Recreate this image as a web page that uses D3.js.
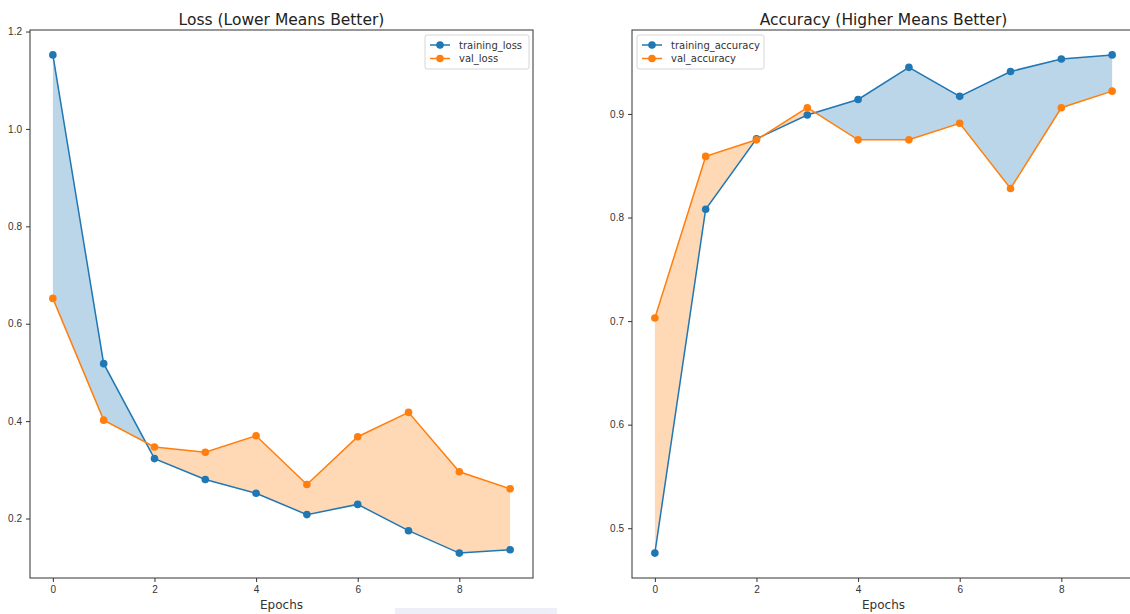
<!DOCTYPE html>
<html>
<head>
<meta charset="utf-8">
<script src="https://cdn.jsdelivr.net/npm/d3@7"></script>
<style>
  body { margin: 0; background: #fff; }
  svg { display: block; font-family: "DejaVu Sans", sans-serif; }
  .tick text { font-size: 10px; fill: #333; }
  .tick line { stroke: #333; }
  .domain { display: none; }
</style>
</head>
<body>
<svg id="chart" width="1130" height="614"></svg>
<script>
// epochs and history values
var epochs = [0, 1, 2, 3, 4, 5, 6, 7, 8, 9];
var trainingLoss = [1.152, 0.518, 0.323, 0.280, 0.252, 0.208, 0.229, 0.175, 0.129, 0.136];
var valLoss = [0.652, 0.402, 0.347, 0.336, 0.370, 0.270, 0.368, 0.418, 0.296, 0.261];
var trainingAcc = [0.476, 0.808, 0.876, 0.899, 0.914, 0.945, 0.917, 0.941, 0.953, 0.957];
var valAcc = [0.703, 0.859, 0.875, 0.906, 0.875, 0.875, 0.891, 0.828, 0.906, 0.922];
var xTicks = [0, 2, 4, 6, 8];
var lossTicks = [0.2, 0.4, 0.6, 0.8, 1.0, 1.2];
var accTicks = [0.5, 0.6, 0.7, 0.8, 0.9];

var blue = "#1f77b4", orange = "#ff7f0e";
var svg = d3.select("#chart");

// faint strip at the bottom of the screenshot
svg.append("rect").attr("x", 395).attr("y", 608).attr("width", 162).attr("height", 6)
  .attr("fill", "#eeeef8");

// pieces of the curve where a > b, with crossings interpolated like fill_between
function regions(a, b) {
  var polys = [], cur = null;
  function cross(i) {
    var d0 = a[i - 1] - b[i - 1], d1 = a[i] - b[i];
    var t = d0 / (d0 - d1);
    var v = a[i - 1] + t * (a[i] - a[i - 1]);
    return {x: epochs[i - 1] + t * (epochs[i] - epochs[i - 1]), a: v, b: v};
  }
  for (var i = 0; i < a.length; i++) {
    var on = a[i] > b[i];
    if (on) {
      if (!cur) { cur = []; if (i > 0) cur.push(cross(i)); }
      cur.push({x: epochs[i], a: a[i], b: b[i]});
    } else if (cur) {
      cur.push(cross(i)); polys.push(cur); cur = null;
    }
  }
  if (cur) polys.push(cur);
  return polys;
}

function panel(opt) {
  var g = svg.append("g").attr("transform", "translate(" + opt.left + "," + opt.top + ")");
  var w = opt.width, h = opt.height;

  var allY = opt.train.concat(opt.val);
  var lo = d3.min(allY), hi = d3.max(allY), pad = (hi - lo) * 0.05;
  var x = d3.scaleLinear().domain([-0.45, 9.45]).range([0, w]);
  var y = d3.scaleLinear().domain([lo - pad, hi + pad]).range([h, 0]);

  var area = d3.area()
    .x(function(d) { return x(d.x); })
    .y0(function(d) { return y(d.b); })
    .y1(function(d) { return y(d.a); });

  regions(opt.train, opt.val).forEach(function(p) {
    g.append("path").attr("d", area(p)).attr("fill", blue).attr("fill-opacity", 0.3);
  });
  regions(opt.val, opt.train).forEach(function(p) {
    g.append("path").attr("d", area(p)).attr("fill", orange).attr("fill-opacity", 0.3);
  });

  var line = d3.line()
    .x(function(d, i) { return x(epochs[i]); })
    .y(function(d) { return y(d); });

  [[opt.train, blue], [opt.val, orange]].forEach(function(s) {
    g.append("path").attr("d", line(s[0])).attr("fill", "none")
      .attr("stroke", s[1]).attr("stroke-width", 1.5);
    g.selectAll(null).data(s[0]).enter().append("circle")
      .attr("cx", function(d, i) { return x(epochs[i]); })
      .attr("cy", function(d) { return y(d); })
      .attr("r", 3.8).attr("fill", s[1]);
  });

  // axes
  g.append("g").attr("transform", "translate(0," + h + ")")
    .call(d3.axisBottom(x).tickValues(xTicks).tickSize(4).tickPadding(4).tickFormat(d3.format("d")));
  g.append("g")
    .call(d3.axisLeft(y).tickValues(opt.yTicks).tickSize(4).tickPadding(4).tickFormat(d3.format(".1f")));

  g.append("rect").attr("width", w).attr("height", h)
    .attr("fill", "none").attr("stroke", "#333").attr("stroke-width", 1);

  g.append("text").attr("x", w / 2).attr("y", -5).attr("text-anchor", "middle")
    .attr("font-size", 15.5).attr("fill", "#222").text(opt.title);
  g.append("text").attr("x", w / 2).attr("y", h + 31).attr("text-anchor", "middle")
    .attr("font-size", 12).attr("fill", "#333").text("Epochs");

  // legend
  var lg = g.append("g").attr("transform", "translate(" + opt.legendX + ",5)");
  lg.append("rect").attr("width", opt.legendW).attr("height", 34).attr("rx", 2)
    .attr("fill", "#fff").attr("fill-opacity", 0.8).attr("stroke", "#d6d6d6");
  opt.names.forEach(function(n, i) {
    var c = i === 0 ? blue : orange, yy = 10 + i * 13.5;
    lg.append("line").attr("x1", 5).attr("x2", 25).attr("y1", yy).attr("y2", yy)
      .attr("stroke", c).attr("stroke-width", 1.5);
    lg.append("circle").attr("cx", 15).attr("cy", yy).attr("r", 3.8).attr("fill", c);
    lg.append("text").attr("x", 34).attr("y", yy + 3.5).attr("font-size", 10)
      .attr("fill", "#333").text(n);
  });
}

panel({left: 30, top: 30, width: 503, height: 548,
  train: trainingLoss, val: valLoss, yTicks: lossTicks,
  title: "Loss (Lower Means Better)", names: ["training_loss", "val_loss"],
  legendX: 395, legendW: 104});

panel({left: 632, top: 30, width: 503, height: 548,
  train: trainingAcc, val: valAcc, yTicks: accTicks,
  title: "Accuracy (Higher Means Better)", names: ["training_accuracy", "val_accuracy"],
  legendX: 5, legendW: 127});
</script>
</body>
</html>
